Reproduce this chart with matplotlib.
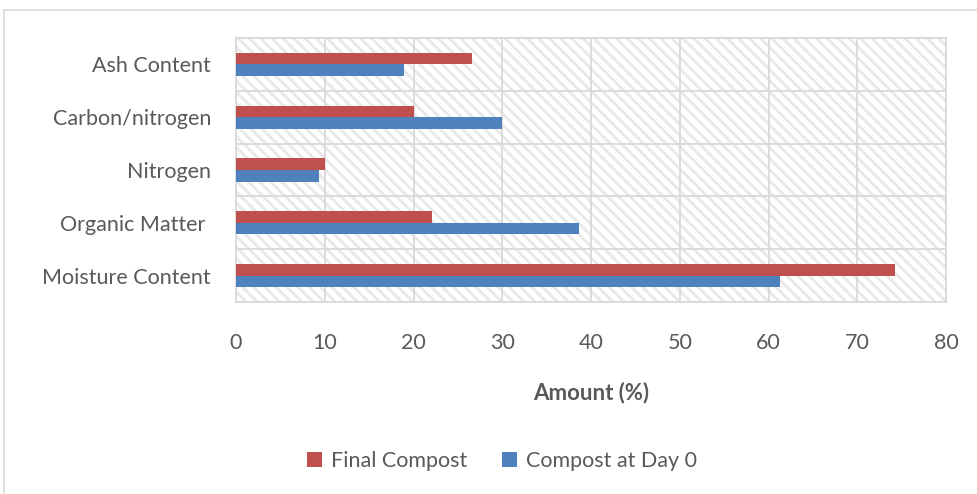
import numpy as np
import matplotlib
matplotlib.use("Agg")
import matplotlib.pyplot as plt
from matplotlib.patches import Rectangle, Patch

categories = ["Moisture Content", "Organic Matter ", "Nitrogen", "Carbon/nitrogen", "Ash Content"]
final_compost = [74.3, 22.1, 10.0, 20.1, 26.6]
compost_day0 = [61.3, 38.6, 9.4, 30.0, 18.9]
x_ticks = [0, 10, 20, 30, 40, 50, 60, 70, 80]

RED = "#c0504d"
BLUE = "#4f81bd"
GRID = "#d9d9d9"
TEXT = "#595959"

plt.rcParams["font.family"] = ["Lato", "DejaVu Sans"]
plt.rcParams["hatch.linewidth"] = 2.0

W, H = 977, 494
fig = plt.figure(figsize=(W / 100, H / 100), dpi=100)

# outer chart frame
fig.patches.append(Rectangle((4 / W, -0.05), 1.2, 1 - 10 / H + 0.05,
                             transform=fig.transFigure, fill=False,
                             edgecolor=GRID, linewidth=1.2, zorder=0))

ax = fig.add_axes([236 / W, 1 - 302 / H, (946 - 236) / W, (302 - 38) / H])

# hatched plot background
ax.add_patch(Rectangle((0, 0), 1, 1, transform=ax.transAxes,
                       facecolor="white", edgecolor="#e8e8e8", hatch="\\\\\\",
                       linewidth=0, zorder=0))

y = np.arange(len(categories))
h = 0.22
ax.barh(y + h / 2, final_compost, height=h, color=RED, zorder=3, label="Final Compost")
ax.barh(y - h / 2, compost_day0, height=h, color=BLUE, zorder=3, label="Compost at Day 0")

ax.set_xlim(0, 80)
ax.set_ylim(-0.5, len(categories) - 0.5)
ax.set_xticks(x_ticks)
ax.set_yticks(y)
ax.set_yticklabels(categories)
ax.set_yticks(np.arange(-0.5, len(categories)), minor=True)

ax.grid(axis="x", which="major", color=GRID, linewidth=1.3, zorder=1)
ax.grid(axis="y", which="minor", color=GRID, linewidth=1.3, zorder=1)
ax.grid(axis="y", which="major", visible=False)

for s in ax.spines.values():
    s.set_color(GRID)
    s.set_linewidth(1.3)

ax.tick_params(axis="both", which="both", length=0, colors=TEXT, labelsize=15.5)
ax.tick_params(axis="x", pad=22)
ax.tick_params(axis="y", pad=18)

ax.set_xlabel("Amount (%)", fontsize=16, fontweight="bold", color=TEXT, labelpad=21)

handles = [Patch(facecolor=RED, label="Final Compost"),
           Patch(facecolor=BLUE, label="Compost at Day 0")]
fig.legend(handles=handles, loc="center", bbox_to_anchor=(502 / W, 1 - 461 / H),
           ncol=2, frameon=False, fontsize=15.5, labelcolor=TEXT,
           handlelength=0.7, handleheight=0.7, handletextpad=0.4,
           columnspacing=1.65)

fig.savefig("out.png", dpi=100)
